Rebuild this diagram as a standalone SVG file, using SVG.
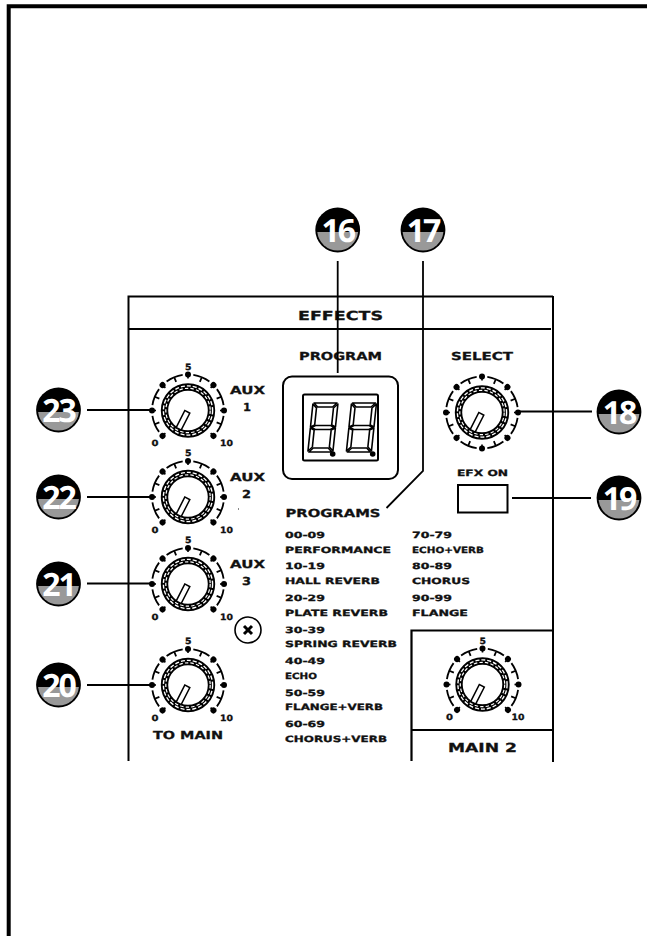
<svg xmlns="http://www.w3.org/2000/svg" width="647" height="936" viewBox="0 0 647 936">
<style>
.t{font-family:"DejaVu Sans","Liberation Sans",sans-serif;font-weight:700;fill:#111;stroke:#111;stroke-width:.3px;text-rendering:geometricPrecision}
.s{font-size:8.6px}
.m{font-size:11px}
.l{font-size:12.5px}
.n{font-family:"Open Sans","Noto Sans",sans-serif;font-weight:700;font-size:32px;fill:#fff;text-anchor:middle;letter-spacing:-2px;text-rendering:geometricPrecision}
.w{fill:none;stroke:#000}
.c{fill:none;stroke:#000;stroke-width:1.8}
.seg{fill:#fff;stroke:#000;stroke-width:1.6;stroke-linejoin:round}
</style>
<defs>
<g id="badge"><circle r="22.4" fill="#000"/><path d="M-20.4 2A20.5 20.5 0 0 0 20.4 2Z" fill="#999"/></g>
<g id="tick"><path class="w" stroke-width="1.8" d="M-8.7 -34.9A36 36 0 0 1 8.7 -34.9M0 -36V-31"/></g>
<g id="dot"><circle cy="-36" r="3" fill="#000"/><path d="M0 -36V-32" class="w" stroke-width="1.6"/></g>
<g id="scale">
<use href="#tick" transform="rotate(-112.5)"/><use href="#tick" transform="rotate(-67.5)"/><use href="#tick" transform="rotate(-22.5)"/><use href="#tick" transform="rotate(22.5)"/><use href="#tick" transform="rotate(67.5)"/><use href="#tick" transform="rotate(112.5)"/>
<use href="#dot" transform="rotate(-135)"/><use href="#dot" transform="rotate(-90)"/><use href="#dot" transform="rotate(-45)"/><use href="#dot"/><use href="#dot" transform="rotate(45)"/><use href="#dot" transform="rotate(90)"/><use href="#dot" transform="rotate(135)"/>
</g>
<g id="dial">
<circle r="23.5" fill="#fff" stroke="#000" stroke-width="7.4"/>
<circle r="24.6" fill="none" stroke="#fff" stroke-width="1.4" stroke-dasharray="4 2"/>
<circle r="22.2" fill="none" stroke="#fff" stroke-width="1.2" stroke-dasharray="3.4 2.2"/>
<rect x="-2.8" y="1.5" width="5.6" height="19" transform="rotate(27)" fill="#fff" stroke="#000" stroke-width="1.5"/>
</g>
<g id="digit" transform="skewX(-6)">
<path class="seg" d="M1 0H24L20 4H5Z"/>
<path class="seg" d="M0 1L4 5V22L0 24Z"/>
<path class="seg" d="M25 1V24L21 22V5Z"/>
<path class="seg" d="M1 24.5L5 22.5H20L24 24.5L20 26.5H5Z"/>
<path class="seg" d="M0 25L4 27V44L0 48Z"/>
<path class="seg" d="M25 25V48L21 44V27Z"/>
<path class="seg" d="M1 49H24L20 45H5Z"/>
</g>
</defs>
<rect width="647" height="936" fill="#fff"/>
<path id="page-border" d="M8.7 936V6.2H647" fill="none" stroke="#000" stroke-width="4"/>
<g id="panel" class="w" stroke-width="2">
<path d="M128.5 761V296.5H553M128.5 329H551M553 296V762"/>
<path d="M411.5 761V630.5H553M411.5 730H553" stroke-width="2.2"/>
</g>
<g id="title"><text class="t l" x="298" y="319.5" textLength="85" lengthAdjust="spacingAndGlyphs">EFFECTS</text></g>
<g id="knob-aux1" transform="translate(188 410.5)"><use href="#scale"/><use href="#dial"/>
<text class="t s" x="-3" y="-41" textLength="6.5" lengthAdjust="spacingAndGlyphs">5</text><text class="t s" x="-36.5" y="35.5" textLength="7" lengthAdjust="spacingAndGlyphs">0</text><text class="t s" x="32" y="35.5" textLength="13" lengthAdjust="spacingAndGlyphs">10</text></g>
<g id="knob-aux2" transform="translate(188 497)"><use href="#scale"/><use href="#dial"/>
<text class="t s" x="-3" y="-41" textLength="6.5" lengthAdjust="spacingAndGlyphs">5</text><text class="t s" x="-36.5" y="35.5" textLength="7" lengthAdjust="spacingAndGlyphs">0</text><text class="t s" x="32" y="35.5" textLength="13" lengthAdjust="spacingAndGlyphs">10</text></g>
<g id="knob-aux3" transform="translate(188 584)"><use href="#scale"/><use href="#dial"/>
<text class="t s" x="-3" y="-41" textLength="6.5" lengthAdjust="spacingAndGlyphs">5</text><text class="t s" x="-36.5" y="35.5" textLength="7" lengthAdjust="spacingAndGlyphs">0</text><text class="t s" x="32" y="35.5" textLength="13" lengthAdjust="spacingAndGlyphs">10</text></g>
<g id="knob-main" transform="translate(188 685)"><use href="#scale"/><use href="#dial"/>
<text class="t s" x="-3" y="-41" textLength="6.5" lengthAdjust="spacingAndGlyphs">5</text><text class="t s" x="-36.5" y="35.5" textLength="7" lengthAdjust="spacingAndGlyphs">0</text><text class="t s" x="32" y="35.5" textLength="13" lengthAdjust="spacingAndGlyphs">10</text></g>
<g id="knob-select" transform="translate(482 412.5)"><use href="#scale"/><use href="#tick" transform="rotate(157.5)"/><use href="#tick" transform="rotate(-157.5)"/><use href="#dot" transform="rotate(180)"/><use href="#dial"/></g>
<g id="knob-main2" transform="translate(482.5 684.5)"><use href="#scale"/><use href="#dial"/>
<text class="t s" x="-3" y="-41" textLength="6.5" lengthAdjust="spacingAndGlyphs">5</text><text class="t s" x="-36.5" y="35.5" textLength="7" lengthAdjust="spacingAndGlyphs">0</text><text class="t s" x="29" y="35.5" textLength="13" lengthAdjust="spacingAndGlyphs">10</text></g>
<g id="knob-labels">
<text class="t m" x="230" y="394" textLength="35" lengthAdjust="spacingAndGlyphs">AUX</text><text class="t m" x="243" y="411" textLength="8" lengthAdjust="spacingAndGlyphs">1</text>
<text class="t m" x="230" y="481" textLength="35" lengthAdjust="spacingAndGlyphs">AUX</text><text class="t m" x="242" y="498" textLength="9" lengthAdjust="spacingAndGlyphs">2</text>
<text class="t m" x="230" y="568" textLength="35" lengthAdjust="spacingAndGlyphs">AUX</text><text class="t m" x="242" y="585" textLength="9" lengthAdjust="spacingAndGlyphs">3</text>
<text class="t m" x="153" y="739" textLength="70" lengthAdjust="spacingAndGlyphs">TO MAIN</text>
<text class="t l" x="448" y="752" textLength="69" lengthAdjust="spacingAndGlyphs">MAIN 2</text>
<text class="t m" x="299" y="360" textLength="83" lengthAdjust="spacingAndGlyphs">PROGRAM</text>
<text class="t m" x="451" y="360" textLength="62" lengthAdjust="spacingAndGlyphs">SELECT</text>
<text class="t s" x="457" y="476" textLength="51" lengthAdjust="spacingAndGlyphs">EFX ON</text>
<text class="t m" x="285.5" y="517" textLength="95" lengthAdjust="spacingAndGlyphs">PROGRAMS</text>
</g>
<g id="screw"><circle cx="248" cy="630" r="13" fill="#fff" stroke="#000" stroke-width="1.6"/><path d="M244 626L252 634M252 626L244 634" stroke="#000" stroke-width="3" fill="none"/></g>
<rect id="speck" x="238" y="508" width="1" height="2" fill="#888"/>
<g id="display">
<rect x="283" y="376.5" width="115" height="102.5" rx="9" fill="#fff" stroke="#000" stroke-width="2"/>
<rect x="303" y="394.5" width="75" height="66" rx="1.5" fill="#fff" stroke="#000" stroke-width="2"/>
<use href="#digit" transform="translate(313 403)"/>
<use href="#digit" transform="translate(351.5 403)"/>
<circle cx="332.7" cy="454" r="2.8"/><circle cx="372.7" cy="454" r="2.8"/>
</g>
<g id="efx-on"><rect x="458" y="485" width="49.5" height="27.5" fill="#fff" stroke="#000" stroke-width="2"/></g>
<g id="programs-list">
<text class="t s" x="285" y="537.5" textLength="40" lengthAdjust="spacingAndGlyphs">00-09</text>
<text class="t s" x="285" y="552.5" textLength="106" lengthAdjust="spacingAndGlyphs">PERFORMANCE</text>
<text class="t s" x="285" y="569" textLength="40" lengthAdjust="spacingAndGlyphs">10-19</text>
<text class="t s" x="285" y="584" textLength="95" lengthAdjust="spacingAndGlyphs">HALL REVERB</text>
<text class="t s" x="285" y="600.5" textLength="40" lengthAdjust="spacingAndGlyphs">20-29</text>
<text class="t s" x="285" y="615.5" textLength="103" lengthAdjust="spacingAndGlyphs">PLATE REVERB</text>
<text class="t s" x="285" y="632.5" textLength="40" lengthAdjust="spacingAndGlyphs">30-39</text>
<text class="t s" x="285" y="647" textLength="112" lengthAdjust="spacingAndGlyphs">SPRING REVERB</text>
<text class="t s" x="285" y="664" textLength="40" lengthAdjust="spacingAndGlyphs">40-49</text>
<text class="t s" x="285" y="678.5" textLength="32" lengthAdjust="spacingAndGlyphs">ECHO</text>
<text class="t s" x="285" y="695.5" textLength="40" lengthAdjust="spacingAndGlyphs">50-59</text>
<text class="t s" x="285" y="710" textLength="98" lengthAdjust="spacingAndGlyphs">FLANGE+VERB</text>
<text class="t s" x="285" y="727" textLength="40" lengthAdjust="spacingAndGlyphs">60-69</text>
<text class="t s" x="285" y="741.5" textLength="102" lengthAdjust="spacingAndGlyphs">CHORUS+VERB</text>
<text class="t s" x="412" y="537.5" textLength="40" lengthAdjust="spacingAndGlyphs">70-79</text>
<text class="t s" x="412" y="552.5" textLength="72" lengthAdjust="spacingAndGlyphs">ECHO+VERB</text>
<text class="t s" x="412" y="569" textLength="40" lengthAdjust="spacingAndGlyphs">80-89</text>
<text class="t s" x="412" y="584" textLength="58" lengthAdjust="spacingAndGlyphs">CHORUS</text>
<text class="t s" x="412" y="600.5" textLength="40" lengthAdjust="spacingAndGlyphs">90-99</text>
<text class="t s" x="412" y="615.5" textLength="56" lengthAdjust="spacingAndGlyphs">FLANGE</text>
</g>
<g id="connectors">
<path class="c" d="M337.7 261V373"/>
<path class="c" d="M423 261V471L386.5 508"/>
<path class="c" d="M87 410H152M87 497H152M87 583.5H152M87 685H152"/>
<path class="c" d="M519 411.5H592M512 498H591"/>
</g>
<g id="n16" transform="translate(337.7 230)"><use href="#badge"/><text class="n" y="11.5">16</text></g>
<g id="n17" transform="translate(423 230)"><use href="#badge"/><text class="n" y="11.5">17</text></g>
<g id="n18" transform="translate(619 412)"><use href="#badge"/><text class="n" y="11.5">18</text></g>
<g id="n19" transform="translate(619 498)"><use href="#badge"/><text class="n" y="11.5">19</text></g>
<g id="n20" transform="translate(58.5 685)"><use href="#badge"/><text class="n" y="11.5">20</text></g>
<g id="n21" transform="translate(58.5 584)"><use href="#badge"/><text class="n" y="11.5">21</text></g>
<g id="n22" transform="translate(58.5 497)"><use href="#badge"/><text class="n" y="11.5">22</text></g>
<g id="n23" transform="translate(58.5 410)"><use href="#badge"/><text class="n" y="11.5">23</text></g>
</svg>
